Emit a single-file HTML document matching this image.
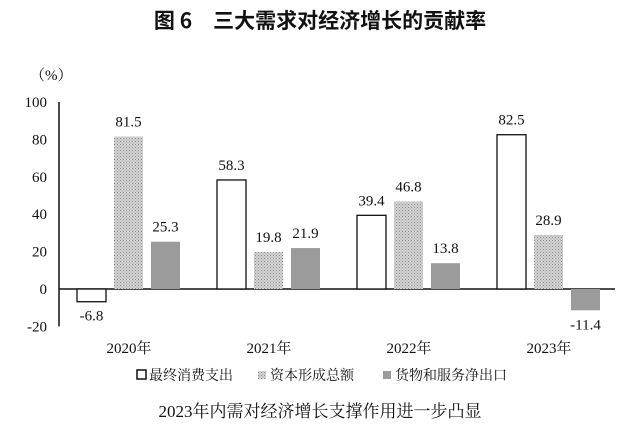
<!DOCTYPE html>
<html><head><meta charset="utf-8"><style>
body{margin:0;background:#fff;}
svg text{font-family:"Liberation Serif","Noto Serif CJK SC",serif;fill:#111;}
</style></head><body>
<svg width="640" height="440" xmlns="http://www.w3.org/2000/svg">
<defs>
<pattern id="dots" width="3" height="3" patternUnits="userSpaceOnUse">
<rect width="3" height="3" fill="#d4d4d4"/><rect width="1" height="1" fill="#8a8a8a"/><rect x="1.5" y="1.5" width="1" height="1" fill="#9a9a9a"/>
</pattern>
</defs>
<text x="320" y="28" text-anchor="middle" font-size="21" font-weight="bold" style="font-family:'Noto Sans CJK SC',sans-serif">图 6　三大需求对经济增长的贡献率</text>
<text x="30" y="80" font-size="15">（%）</text>
<g id="plot"></g>
<g>
<rect x="137" y="370" width="9" height="9" fill="#fff" stroke="#111" stroke-width="1.5"/>
<text x="149" y="380" font-size="14">最终消费支出</text>
<rect x="258" y="371" width="8" height="8" fill="url(#dots)"/>
<text x="270" y="380" font-size="14">资本形成总额</text>
<rect x="383" y="371" width="8" height="8" fill="#9b9b9b"/>
<text x="395" y="380" font-size="14">货物和服务净出口</text>
</g>
<text x="320" y="417" text-anchor="middle" font-size="17">2023年内需对经济增长支撑作用进一步凸显</text>
</svg>
<script>
const categories=["2020年","2021年","2022年","2023年"];
const consumption=[-6.8,58.3,39.4,82.5];
const capital=[81.5,19.8,46.8,28.9];
const netExports=[25.3,21.9,13.8,-11.4];
const yTicks=[100,80,60,40,20,0,-20];
const NS="http://www.w3.org/2000/svg";
const g=document.getElementById('plot');
const y=v=>289-v*1.87;
const groupX=i=>77+i*140;
function el(tag,attrs,text){const e=document.createElementNS(NS,tag);for(const k in attrs)e.setAttribute(k,attrs[k]);if(text!==undefined)e.textContent=text;g.appendChild(e);return e;}
const ax=el('line',{x1:59,y1:y(100),x2:59,y2:y(-20),stroke:'#111','stroke-width':1.5});


const zl=el('line',{x1:59,y1:y(0),x2:615,y2:y(0),stroke:'#111','stroke-width':1.5});


yTicks.forEach(t=>{const e=el('text',{x:47,y:y(t)+5,'text-anchor':'end','font-size':15},String(t));

});
const series=[[consumption,'#fff','consumption'],[capital,'url(#dots)','capital'],[netExports,'#9b9b9b','net-exports']];
categories.forEach((c,i)=>{
 const cl=el('text',{x:groupX(i)+52,y:353,'text-anchor':'middle','font-size':15},c);
 
 
 series.forEach(([arr,fill,name],j)=>{
  const v=arr[i],x=groupX(i)+j*37,w=29;
  const top=Math.min(y(v),y(0)),h=Math.abs(y(v)-y(0));
  const r=el('rect',{x:x,y:top,width:w,height:h,fill:fill,stroke:j===0?'#111':'none','stroke-width':1.3});
  
  
  const ly=v>=0?y(v)-10:y(v)+19;
  const t=el('text',{x:x+w/2,y:ly,'text-anchor':'middle','font-size':15},v.toFixed(1));
  
  
 });
});
</script>
</body></html>
